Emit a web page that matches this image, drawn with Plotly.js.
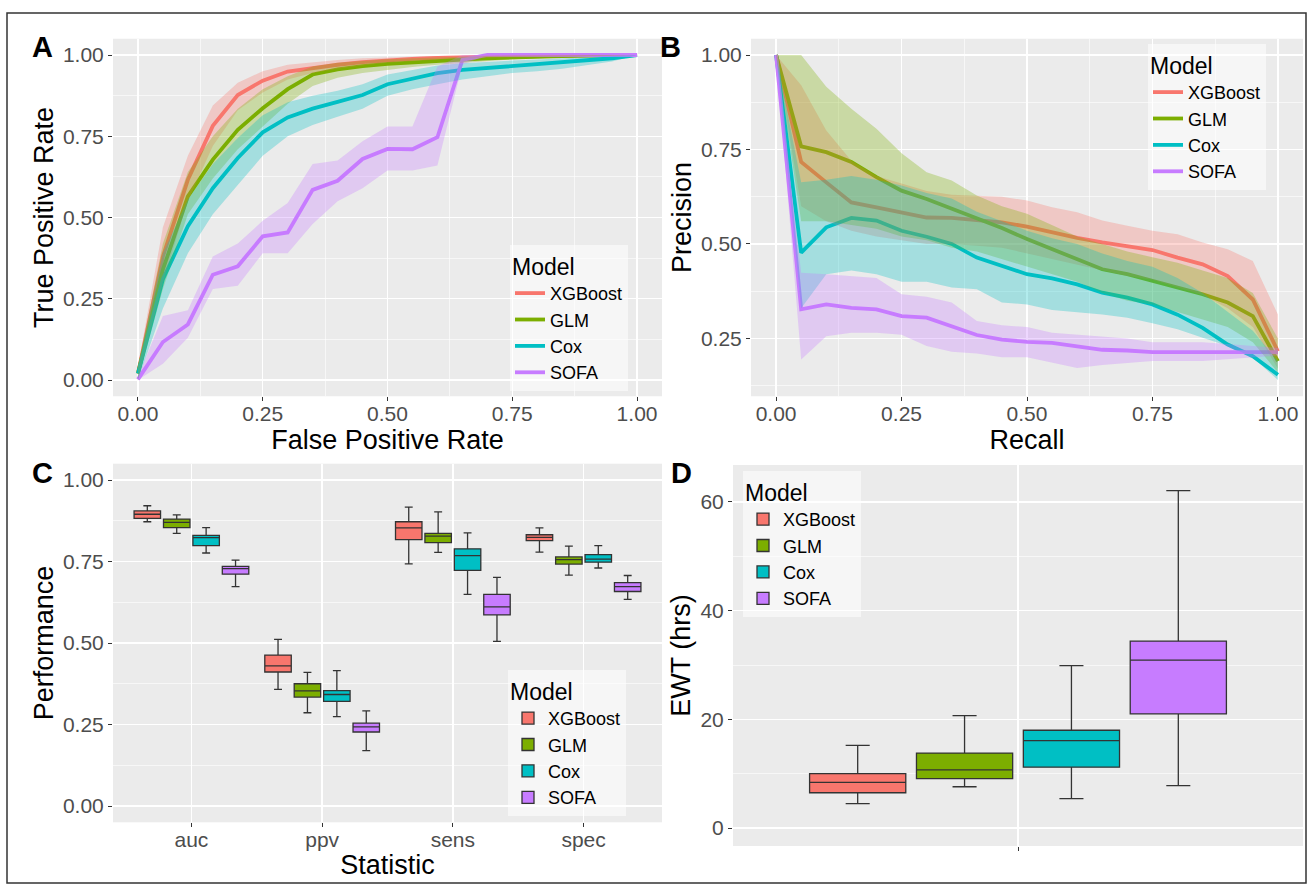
<!DOCTYPE html>
<html><head><meta charset="utf-8">
<script src="https://cdn.plot.ly/plotly-3.0.1.min.js"></script>
<style>html,body{margin:0;padding:0;background:#fff}#chart{width:1311px;height:886px}</style>
</head><body><div id="chart"></div>
<script>
// ---------- data ----------
const models = ['XGBoost', 'GLM', 'Cox', 'SOFA'];
const colors = ['#F8766D', '#7CAE00', '#00BFC4', '#C77CFF'];
const ribbonColors = ['rgba(248,118,109,0.3)', 'rgba(124,174,0,0.3)', 'rgba(0,191,196,0.3)', 'rgba(199,124,255,0.3)'];

// Panel A: ROC
const fpr = [0, 0.05, 0.10, 0.15, 0.20, 0.25, 0.30, 0.35, 0.40, 0.45, 0.50, 0.55, 0.60, 0.65, 0.70, 0.75, 0.80, 0.85, 0.90, 0.95, 1.00];
const tprXgb   = [0.02, 0.38, 0.616, 0.782, 0.877, 0.921, 0.949, 0.96, 0.97, 0.978, 0.984, 0.988, 0.991, 0.993, 0.995, 0.996, 0.997, 0.998, 0.999, 0.999, 1.0];
const tprXgbLo = [0.0, 0.30, 0.55, 0.72, 0.83, 0.885, 0.925, 0.945, 0.958, 0.968, 0.976, 0.982, 0.986, 0.99, 0.992, 0.994, 0.995, 0.996, 0.998, 0.999, 1.0];
const tprXgbHi = [0.04, 0.47, 0.69, 0.845, 0.915, 0.95, 0.97, 0.978, 0.985, 0.99, 0.993, 0.995, 0.997, 0.998, 0.999, 0.999, 1.0, 1.0, 1.0, 1.0, 1.0];
const tprGlm   = [0.02, 0.34, 0.565, 0.678, 0.77, 0.836, 0.895, 0.94, 0.956, 0.966, 0.973, 0.978, 0.982, 0.986, 0.99, 0.993, 0.995, 0.997, 0.998, 0.999, 1.0];
const tprGlmLo = [0.0, 0.28, 0.51, 0.62, 0.71, 0.78, 0.85, 0.905, 0.93, 0.945, 0.955, 0.963, 0.97, 0.976, 0.982, 0.987, 0.99, 0.993, 0.996, 0.998, 1.0];
const tprGlmHi = [0.04, 0.42, 0.64, 0.75, 0.835, 0.895, 0.935, 0.965, 0.976, 0.982, 0.987, 0.99, 0.993, 0.995, 0.997, 0.998, 0.999, 1.0, 1.0, 1.0, 1.0];
const tprCox   = [0.02, 0.31, 0.473, 0.59, 0.683, 0.762, 0.808, 0.835, 0.856, 0.877, 0.91, 0.928, 0.944, 0.954, 0.96, 0.965, 0.97, 0.976, 0.982, 0.99, 1.0];
const tprCoxLo = [0.0, 0.22, 0.39, 0.51, 0.60, 0.69, 0.75, 0.785, 0.81, 0.835, 0.875, 0.895, 0.91, 0.925, 0.935, 0.945, 0.95, 0.958, 0.968, 0.98, 1.0];
const tprCoxHi = [0.04, 0.39, 0.555, 0.665, 0.745, 0.815, 0.855, 0.875, 0.89, 0.91, 0.94, 0.955, 0.968, 0.975, 0.98, 0.983, 0.986, 0.99, 0.993, 0.996, 1.0];
const tprSofa   = [0.002, 0.117, 0.171, 0.324, 0.35, 0.442, 0.454, 0.585, 0.613, 0.68, 0.711, 0.71, 0.747, 0.985, 1.0, 1.0, 1.0, 1.0, 1.0, 1.0, 1.0];
const tprSofaLo = [0.0, 0.05, 0.13, 0.28, 0.29, 0.39, 0.39, 0.48, 0.55, 0.59, 0.645, 0.645, 0.66, 0.97, 1.0, 1.0, 1.0, 1.0, 1.0, 1.0, 1.0];
const tprSofaHi = [0.01, 0.197, 0.215, 0.38, 0.42, 0.49, 0.545, 0.665, 0.675, 0.735, 0.78, 0.78, 0.965, 1.0, 1.0, 1.0, 1.0, 1.0, 1.0, 1.0, 1.0];

// Panel B: precision-recall
const recall = [0, 0.05, 0.10, 0.15, 0.20, 0.25, 0.30, 0.35, 0.40, 0.45, 0.50, 0.55, 0.60, 0.65, 0.70, 0.75, 0.80, 0.85, 0.90, 0.95, 1.00];
const precXgb   = [1.0, 0.717, 0.663, 0.61, 0.597, 0.584, 0.57, 0.569, 0.562, 0.557, 0.546, 0.531, 0.516, 0.504, 0.495, 0.484, 0.464, 0.446, 0.415, 0.353, 0.216];
const precXgbLo = [1.0, 0.60, 0.56, 0.535, 0.52, 0.51, 0.50, 0.50, 0.495, 0.49, 0.475, 0.46, 0.445, 0.43, 0.415, 0.405, 0.385, 0.365, 0.33, 0.28, 0.17];
const precXgbHi = [1.0, 0.92, 0.80, 0.72, 0.68, 0.66, 0.64, 0.63, 0.628, 0.625, 0.615, 0.597, 0.584, 0.562, 0.548, 0.535, 0.526, 0.504, 0.486, 0.455, 0.313];
const precGlm   = [1.0, 0.758, 0.743, 0.717, 0.677, 0.641, 0.619, 0.593, 0.566, 0.542, 0.513, 0.486, 0.46, 0.433, 0.42, 0.402, 0.385, 0.367, 0.345, 0.309, 0.19];
const precGlmLo = [1.0, 0.56, 0.56, 0.55, 0.54, 0.52, 0.51, 0.49, 0.48, 0.46, 0.44, 0.42, 0.40, 0.37, 0.35, 0.34, 0.32, 0.30, 0.28, 0.24, 0.16];
const precGlmHi = [1.0, 1.0, 0.916, 0.858, 0.805, 0.74, 0.69, 0.668, 0.628, 0.60, 0.58, 0.55, 0.52, 0.50, 0.48, 0.465, 0.45, 0.43, 0.41, 0.37, 0.25];
const precCox   = [1.0, 0.477, 0.544, 0.569, 0.562, 0.535, 0.519, 0.50, 0.464, 0.442, 0.42, 0.409, 0.393, 0.371, 0.358, 0.34, 0.313, 0.278, 0.234, 0.203, 0.154];
const precCoxLo = [1.0, 0.33, 0.42, 0.43, 0.42, 0.40, 0.40, 0.385, 0.38, 0.345, 0.34, 0.325, 0.32, 0.313, 0.305, 0.29, 0.274, 0.252, 0.23, 0.20, 0.14];
const precCoxHi = [1.0, 0.663, 0.67, 0.68, 0.67, 0.655, 0.635, 0.62, 0.585, 0.56, 0.535, 0.515, 0.50, 0.475, 0.455, 0.44, 0.41, 0.37, 0.32, 0.27, 0.19];
const precSofa   = [1.0, 0.327, 0.34, 0.331, 0.327, 0.309, 0.305, 0.283, 0.259, 0.247, 0.241, 0.238, 0.229, 0.22, 0.218, 0.214, 0.214, 0.214, 0.214, 0.214, 0.214];
const precSofaLo = [1.0, 0.194, 0.256, 0.265, 0.265, 0.26, 0.23, 0.215, 0.21, 0.20, 0.20, 0.185, 0.172, 0.18, 0.185, 0.19, 0.19, 0.19, 0.195, 0.20, 0.205];
const precSofaHi = [1.0, 0.424, 0.42, 0.415, 0.41, 0.367, 0.36, 0.345, 0.296, 0.285, 0.28, 0.265, 0.26, 0.255, 0.25, 0.24, 0.24, 0.24, 0.235, 0.23, 0.225];

// Panel C: performance boxplots (per model: auc, ppv, sens, spec)
const statistics = ['auc', 'ppv', 'sens', 'spec'];
const perfLowXgb  = [0.872, 0.358, 0.743, 0.779];
const perfQ1Xgb   = [0.882, 0.411, 0.817, 0.814];
const perfMedXgb  = [0.895, 0.430, 0.853, 0.824];
const perfQ3Xgb   = [0.905, 0.463, 0.872, 0.832];
const perfHighXgb = [0.921, 0.511, 0.917, 0.853];
const perfLowGlm  = [0.836, 0.286, 0.778, 0.708];
const perfQ1Glm   = [0.854, 0.334, 0.808, 0.742];
const perfMedGlm  = [0.870, 0.353, 0.828, 0.756];
const perfQ3Glm   = [0.880, 0.375, 0.836, 0.764];
const perfHighGlm = [0.893, 0.410, 0.902, 0.797];
const perfLowCox  = [0.776, 0.274, 0.649, 0.730];
const perfQ1Cox   = [0.799, 0.321, 0.723, 0.748];
const perfMedCox  = [0.823, 0.342, 0.768, 0.757];
const perfQ3Cox   = [0.830, 0.354, 0.789, 0.771];
const perfHighCox = [0.854, 0.415, 0.838, 0.799];
const perfLowSofa  = [0.673, 0.170, 0.505, 0.634];
const perfQ1Sofa   = [0.711, 0.227, 0.586, 0.658];
const perfMedSofa  = [0.728, 0.243, 0.611, 0.673];
const perfQ3Sofa   = [0.735, 0.254, 0.649, 0.685];
const perfHighSofa = [0.754, 0.292, 0.701, 0.707];

// Panel D: early warning time (hrs), per model
const ewtLow  = [4.5, 7.6, 5.4, 7.8];
const ewtQ1   = [6.5, 9.1, 11.2, 21.0];
const ewtMed  = [8.4, 10.7, 16.1, 30.9];
const ewtQ3   = [10.0, 13.8, 18.0, 34.4];
const ewtHigh = [15.2, 20.7, 29.9, 62.1];

// ---------- layout helpers ----------
const W = 1311, H = 886;
const px = v => v / W;
const py = v => 1 - v / H;
const FONT = '"Liberation Sans", Arial, sans-serif';
const tickFont = {family: FONT, size: 21, color: '#4D4D4D'};
const titleFont = {family: FONT, size: 27, color: '#000000'};

function numAxis(letter, domain, anchor, range, dtick, minorDtick, fmt, title, standoff) {
  const a = {
    domain: domain, anchor: anchor, range: range, tick0: 0, dtick: dtick, tickformat: fmt,
    ticks: 'outside', ticklen: 4, tickwidth: 1, tickcolor: '#333333', tickfont: tickFont,
    showgrid: true, gridcolor: '#FFFFFF', gridwidth: 1.4, zeroline: false, showline: false,
    minor: {dtick: minorDtick, tick0: 0, showgrid: true, gridcolor: '#FFFFFF', gridwidth: 0.6, ticks: ''},
    title: {text: title, font: titleFont, standoff: standoff}, automargin: false, fixedrange: true
  };
  if (letter === 'x') a.ticklabelstandoff = -5;
  return a;
}
function catAxis(domain, anchor, range, title, standoff, extra) {
  return Object.assign({
    domain: domain, anchor: anchor, type: 'category', range: range,
    ticks: 'outside', ticklen: 4, tickwidth: 1, tickcolor: '#333333', tickfont: tickFont,
    ticklabelstandoff: -6,
    showgrid: true, gridcolor: '#FFFFFF', gridwidth: 1.4, zeroline: false, showline: false,
    title: {text: title, font: titleFont, standoff: standoff}, automargin: false, fixedrange: true
  }, extra || {});
}

// ---------- traces ----------
const traces = [];
const rocMean = [tprXgb, tprGlm, tprCox, tprSofa];
const rocLo = [tprXgbLo, tprGlmLo, tprCoxLo, tprSofaLo];
const rocHi = [tprXgbHi, tprGlmHi, tprCoxHi, tprSofaHi];
const prMean = [precXgb, precGlm, precCox, precSofa];
const prLo = [precXgbLo, precGlmLo, precCoxLo, precSofaLo];
const prHi = [precXgbHi, precGlmHi, precCoxHi, precSofaHi];

function addCurves(xs, means, los, his, xa, ya, leg) {
  models.forEach((m, i) => {
    traces.push({type: 'scatter', mode: 'lines', x: xs, y: means[i], xaxis: xa, yaxis: ya,
      line: {color: colors[i], width: 3.8}, name: m, legend: leg, hoverinfo: 'skip'});
  });
  models.forEach((m, i) => {
    traces.push({type: 'scatter', mode: 'lines', x: xs.concat(xs.slice().reverse()),
      y: his[i].concat(los[i].slice().reverse()), xaxis: xa, yaxis: ya, fill: 'toself',
      fillcolor: ribbonColors[i], line: {width: 0}, showlegend: false, hoverinfo: 'skip'});
  });
}
addCurves(fpr, rocMean, rocLo, rocHi, 'x', 'y', 'legend');
addCurves(recall, prMean, prLo, prHi, 'x2', 'y2', 'legend2');

const perfLow = [perfLowXgb, perfLowGlm, perfLowCox, perfLowSofa];
const perfQ1 = [perfQ1Xgb, perfQ1Glm, perfQ1Cox, perfQ1Sofa];
const perfMed = [perfMedXgb, perfMedGlm, perfMedCox, perfMedSofa];
const perfQ3 = [perfQ3Xgb, perfQ3Glm, perfQ3Cox, perfQ3Sofa];
const perfHigh = [perfHighXgb, perfHighGlm, perfHighCox, perfHighSofa];
models.forEach((m, i) => {
  traces.push({type: 'box', x: statistics, lowerfence: perfLow[i], q1: perfQ1[i], median: perfMed[i],
    q3: perfQ3[i], upperfence: perfHigh[i], xaxis: 'x3', yaxis: 'y3', name: m,
    alignmentgroup: 'perf', offsetgroup: m,
    legend: 'legend3', fillcolor: colors[i], line: {color: '#333333', width: 1.3},
    whiskerwidth: 0.3, boxpoints: false, hoverinfo: 'skip'});
});
models.forEach((m, i) => {
  traces.push({type: 'box', x: ['EWT'], lowerfence: [ewtLow[i]], q1: [ewtQ1[i]], median: [ewtMed[i]],
    q3: [ewtQ3[i]], upperfence: [ewtHigh[i]], xaxis: 'x4', yaxis: 'y4', name: m,
    alignmentgroup: 'ewt', offsetgroup: m,
    legend: 'legend4', fillcolor: colors[i], line: {color: '#333333', width: 1.3},
    whiskerwidth: 0.25, boxpoints: false, hoverinfo: 'skip'});
});

// ---------- layout ----------
const domAx = [px(113), px(662)], domBx = [px(751), px(1303)];
const domCx = [px(113), px(662)], domDx = [px(733), px(1303)];
const domTop = [py(396.25), py(38.75)];
const domCy = [py(822.3), py(463.7)];
const domDy = [py(846), py(465)];

function legendCfg(x, y) {
  return {x: px(x), y: py(y), xanchor: 'left', yanchor: 'top', bgcolor: 'rgba(255,255,255,0.55)',
    borderwidth: 0, font: {family: FONT, size: 18, color: '#000'}, itemwidth: 30,
    title: {text: 'Model', font: {family: FONT, size: 23, color: '#000'}}, tracegroupgap: 0};
}
function letter(t, x, y) {
  return {text: '<b>' + t + '</b>', x: px(x), y: py(y), xref: 'paper', yref: 'paper', showarrow: false,
    xanchor: 'center', yanchor: 'middle', font: {family: FONT, size: 29, color: '#000'}};
}

const layout = {
  width: W, height: H, margin: {l: 0, r: 0, t: 0, b: 0},
  paper_bgcolor: '#FFFFFF', plot_bgcolor: '#EBEBEB', font: {family: FONT},
  hovermode: false, boxmode: 'group', boxgap: 0.1, boxgroupgap: 0.1,
  xaxis: numAxis('x', domAx, 'y', [-0.05, 1.05], 0.25, 0.125, '.2f', 'False Positive Rate', 3),
  yaxis: numAxis('y', domTop, 'x', [-0.05, 1.05], 0.25, 0.125, '.2f', 'True Positive Rate', 1),
  xaxis2: numAxis('x', domBx, 'y2', [-0.05, 1.05], 0.25, 0.125, '.2f', 'Recall', 3),
  yaxis2: numAxis('y', domTop, 'x2', [0.097, 1.043], 0.25, 0.125, '.2f', 'Precision', 1),
  xaxis3: catAxis(domCx, 'y3', [-0.6, 3.6], 'Statistic', 0),
  yaxis3: numAxis('y', domCy, 'x3', [-0.05, 1.05], 0.25, 0.125, '.2f', 'Performance', 1),
  xaxis4: catAxis(domDx, 'y4', [-0.6, 0.6], '', 0, {tickmode: 'array', tickvals: ['EWT'], ticktext: [' ']}),
  yaxis4: numAxis('y', domDy, 'x4', [-3.3, 66.8], 20, 10, 'd', 'EWT (hrs)', 1),
  legend: legendCfg(510, 245),
  legend2: legendCfg(1148, 44),
  legend3: legendCfg(508, 670),
  legend4: legendCfg(743, 471),
  annotations: [letter('A', 42, 47), letter('B', 670, 47), letter('C', 42, 473), letter('D', 681, 473)],
  shapes: [
    {type: 'rect', xref: 'paper', yref: 'paper', x0: px(7), x1: px(1306), y0: py(883), y1: py(13),
      line: {color: '#333333', width: 1.5}, fillcolor: 'rgba(0,0,0,0)', layer: 'above'}
  ]
};

Plotly.newPlot('chart', traces, layout, {displayModeBar: false, staticPlot: true});
</script>
</body></html>
